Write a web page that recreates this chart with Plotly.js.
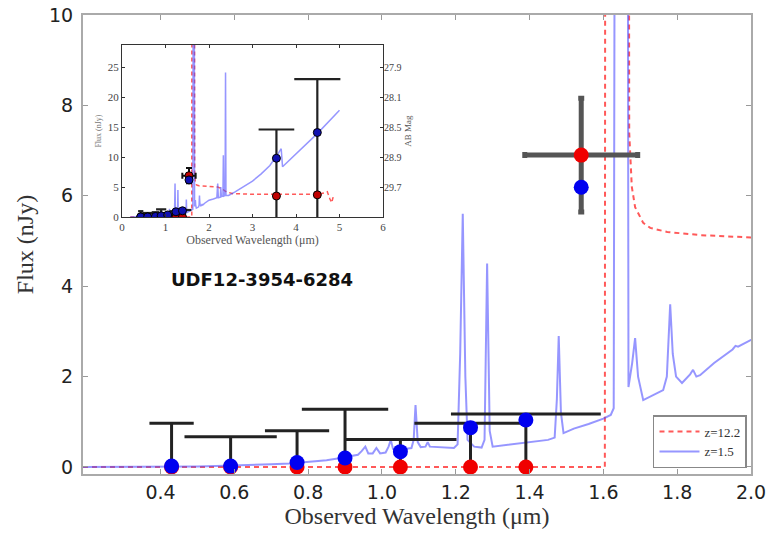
<!DOCTYPE html>
<html>
<head>
<meta charset="utf-8">
<script src="https://cdn.plot.ly/plotly-3.0.1.min.js"></script>
<style>html,body{margin:0;padding:0;background:#fff;}#chart{width:774px;height:533px;}</style>
</head>
<body>
<div id="chart"></div>
<script>
// ---- model SED z=1.5 (blue, solid) ----
const lowZLam = [0.19, 0.30, 0.40, 0.50, 0.55, 0.60, 0.65, 0.70, 0.75, 0.80, 0.85, 0.88, 0.91, 0.935, 0.945, 0.955, 0.963, 0.975, 0.985, 0.995, 1.010, 1.018, 1.024, 1.030, 1.045, 1.060, 1.080, 1.086, 1.091, 1.097, 1.105, 1.118, 1.124, 1.130, 1.160, 1.195, 1.205, 1.212, 1.219, 1.226, 1.232, 1.25, 1.27, 1.278, 1.285, 1.292, 1.30, 1.35, 1.40, 1.45, 1.468, 1.474, 1.479, 1.485, 1.492, 1.52, 1.56, 1.60, 1.62, 1.628, 1.637, 1.662, 1.668, 1.678, 1.686, 1.694, 1.708, 1.740, 1.762, 1.772, 1.781, 1.788, 1.797, 1.813, 1.835, 1.843, 1.852, 1.862, 1.90, 1.95, 1.958, 1.965, 2.00, 2.10, 2.18, 2.20, 2.215, 2.26, 2.27, 2.285, 2.32, 2.33, 2.34, 2.37, 2.38, 2.39, 2.45, 2.60, 2.80, 3.00, 3.20, 3.40, 3.60, 3.66, 3.69, 4.00, 4.50, 5.00];
const lowZFlux = [0.0, 0.0, 0.005, 0.01, 0.02, 0.03, 0.04, 0.06, 0.08, 0.11, 0.15, 0.19, 0.23, 0.27, 0.35, 0.45, 0.30, 0.30, 0.42, 0.30, 0.32, 0.45, 0.60, 0.40, 0.38, 0.40, 0.42, 0.60, 1.37, 0.55, 0.44, 0.45, 0.55, 0.45, 0.43, 0.42, 0.50, 2.5, 5.6, 2.0, 0.60, 0.45, 0.43, 0.60, 4.5, 0.80, 0.45, 0.50, 0.55, 0.60, 0.65, 1.5, 2.9, 1.2, 0.75, 0.85, 0.95, 1.07, 1.15, 1.3, 40, 40, 1.77, 2.3, 2.85, 2.0, 1.48, 1.6, 1.7, 2.0, 3.6, 2.5, 2.0, 1.86, 2.05, 2.15, 2.0, 2.03, 2.3, 2.6, 2.68, 2.66, 2.81, 3.0, 3.2, 5.6, 3.2, 3.3, 5.0, 3.4, 3.5, 10.3, 3.5, 3.6, 24.1, 3.6, 3.6, 4.2, 5.1, 6.0, 7.2, 8.6, 10.7, 11.4, 8.4, 10.6, 14.0, 17.8];

// ---- model SED z=12.2 (red, dashed) ----
const highZLam = [0.19, 1.604, 1.607, 1.666, 1.670, 1.677, 1.686, 1.708, 1.727, 1.773, 1.862, 2.00, 2.20, 2.30, 2.40, 2.55, 3.00, 4.00, 4.50, 4.65, 4.72, 4.78, 4.82, 4.86];
const highZFlux = [0.0, 0.0, 40, 40, 7.4, 6.2, 5.75, 5.4, 5.29, 5.2, 5.13, 5.09, 5.0, 4.7, 4.2, 3.9, 3.8, 3.8, 3.8, 4.0, 4.2, 3.0, 2.4, 3.5];

// ---- photometric bands ----
const bandLam        = [0.43, 0.59, 0.77, 0.90, 1.05, 1.24, 1.39, 1.54, 3.55, 4.49];
const bandHalfWidth  = [0.06, 0.125, 0.087, 0.117, 0.152, 0.152, 0.203, 0.153, 0.41, 0.53];
const lowZBandFlux   = [0.02, 0.02, 0.10, 0.20, 0.34, 0.87, 1.04, 6.19, 9.8, 14.1];
const highZBandFlux  = [0, 0, 0, 0, 0, 0, 0, 6.9, 3.5, 3.7];
const upperLimit     = [0.97, 0.67, 0.80, 1.28, 0.61, 0.97, 1.17, null, 14.6, 23.0];
const obsFlux        = [null, null, null, null, null, null, null, 6.9, null, null];
const obsErr         = [null, null, null, null, null, null, null, 1.26, null, null];

// ---- ticks ----
const mainXTicks = [0.4, 0.6, 0.8, 1.0, 1.2, 1.4, 1.6, 1.8, 2.0];
const mainYTicks = [0, 2, 4, 6, 8, 10];
const insetXTicks = [0, 1, 2, 3, 4, 5, 6];
const insetYTicks = [0, 5, 10, 15, 20, 25];
const abMagFlux   = [5, 10, 15, 20, 25];
const abMagLabels = ['29.7', '28.9', '28.5', '28.1', '27.9'];

const zeros = upperLimit.map(v => (v === null ? null : 0));

const SERIF = 'Liberation Serif, Times New Roman, serif';
const SANS = 'DejaVu Sans, sans-serif';
const redCol = 'rgba(255,60,60,0.85)';
const blueCol = 'rgba(80,80,255,0.6)';

function curves(xa, ya, w, legend) {
  return [
    {x: highZLam, y: highZFlux, xaxis: xa, yaxis: ya, mode: 'lines', name: 'z=12.2', showlegend: legend,
     line: {color: redCol, width: w, dash: legend ? '5px,4px' : '4px,3px'}, hoverinfo: 'skip'},
    {x: lowZLam, y: lowZFlux, xaxis: xa, yaxis: ya, mode: 'lines', name: 'z=1.5', showlegend: legend,
     line: {color: blueCol, width: w}, hoverinfo: 'skip'}
  ];
}
function points(xa, ya, s) {
  return [
    {x: bandLam, y: upperLimit, xaxis: xa, yaxis: ya, mode: 'markers', showlegend: false,
     marker: {size: 1, color: 'rgba(0,0,0,0)'},
     error_x: {type: 'data', array: bandHalfWidth, color: s.barCol, thickness: s.barW, width: 0},
     error_y: {type: 'data', symmetric: false, array: zeros, arrayminus: upperLimit, color: s.barCol, thickness: s.barW, width: 0},
     hoverinfo: 'skip'},
    {x: bandLam, y: obsFlux, xaxis: xa, yaxis: ya, mode: 'markers', showlegend: false,
     marker: {size: 1, color: 'rgba(0,0,0,0)'},
     error_x: {type: 'data', array: bandHalfWidth, color: s.detCol, thickness: s.detW, width: s.cap},
     error_y: {type: 'data', array: obsErr, color: s.detCol, thickness: s.detW, width: s.cap},
     hoverinfo: 'skip'},
    {x: bandLam, y: highZBandFlux, xaxis: xa, yaxis: ya, mode: 'markers', showlegend: false,
     marker: {size: s.ms, color: s.red, line: {width: s.edge, color: '#000'}}, hoverinfo: 'skip'},
    {x: bandLam, y: lowZBandFlux, xaxis: xa, yaxis: ya, mode: 'markers', showlegend: false,
     marker: {size: s.ms, color: s.blue, line: {width: s.edge, color: '#000'}}, hoverinfo: 'skip'}
  ];
}

const data = [].concat(
  curves('x', 'y', 2, true),
  points('x', 'y', {barCol: '#222', barW: 3, detCol: '#555', detW: 5, cap: 3, ms: 15, red: '#f00000', blue: '#0000f0', edge: 0}),
  curves('x2', 'y2', 1.5, false),
  points('x2', 'y2', {barCol: '#222', barW: 2.2, detCol: '#111', detW: 2, cap: 3, ms: 8, red: '#c00000', blue: '#1010b0', edge: 1}),
  // carrier trace so the AB-mag twin axis of the inset is drawn
  [{x: bandLam, y: lowZBandFlux, xaxis: 'x2', yaxis: 'y3', mode: 'markers', showlegend: false,
    marker: {size: 1, color: 'rgba(0,0,0,0)'}, hoverinfo: 'skip'}]
);

const layout = {
  width: 774, height: 533,
  margin: {l: 83, r: 23, t: 15, b: 59},
  paper_bgcolor: '#fff', plot_bgcolor: '#fff',
  showlegend: true,
  legend: {x: 0.994, y: 0.013, xanchor: 'right', yanchor: 'bottom', bgcolor: '#fff',
           bordercolor: '#888', borderwidth: 1.5, itemwidth: 40, tracegroupgap: 0,
           font: {family: SERIF, size: 13, color: '#333'}},
  xaxis: {domain: [0, 1], range: [0.19, 2.0], tickvals: mainXTicks, tickformat: '.1f',
          showgrid: false, zeroline: false, showline: true, linecolor: '#aaa', linewidth: 2, mirror: 'ticks',
          ticks: 'inside', ticklen: 5, tickcolor: '#999', tickwidth: 1,
          tickfont: {family: SANS, size: 19, color: '#222'},
          title: {text: 'Observed Wavelength (μm)', font: {family: SERIF, size: 24, color: '#333'}, standoff: 1}},
  yaxis: {domain: [0, 1], range: [-0.155, 10], tickvals: mainYTicks,
          showgrid: false, zeroline: false, showline: true, linecolor: '#aaa', linewidth: 2, mirror: 'ticks',
          ticks: 'inside', ticklen: 5, tickcolor: '#999', tickwidth: 1, ticklabelstandoff: 4,
          tickfont: {family: SANS, size: 19, color: '#222'},
          title: {text: 'Flux (nJy)', font: {family: SERIF, size: 24, color: '#333'}, standoff: 9}},
  xaxis2: {domain: [0.0584, 0.4491], anchor: 'y2', range: [0, 6], tickvals: insetXTicks,
           showgrid: false, zeroline: false, showline: true, linecolor: '#333', linewidth: 1, mirror: 'ticks',
           ticks: 'inside', ticklen: 3, tickcolor: '#333',
           tickfont: {family: SERIF, size: 11, color: '#444'},
           title: {text: 'Observed Wavelength (μm)', font: {family: SERIF, size: 12, color: '#555'}, standoff: 2}},
  yaxis2: {domain: [0.5599, 0.9346], anchor: 'x2', range: [0, 28.7], tickvals: insetYTicks,
           showgrid: false, zeroline: false, showline: true, linecolor: '#333', linewidth: 1, mirror: true,
           ticks: 'inside', ticklen: 3, tickcolor: '#333',
           tickfont: {family: SERIF, size: 11, color: '#444'},
           title: {text: 'Flux (nJy)', font: {family: SERIF, size: 8, color: '#777'}, standoff: 4}},
  yaxis3: {overlaying: 'y2', anchor: 'x2', side: 'right', range: [0, 28.7], tickvals: abMagFlux, ticktext: abMagLabels,
           showgrid: false, zeroline: false, showline: false,
           ticks: 'inside', ticklen: 3, tickcolor: '#333',
           tickfont: {family: SERIF, size: 10, color: '#444'},
           title: {text: 'AB Mag', font: {family: SERIF, size: 9, color: '#555'}, standoff: 4}},
  annotations: [
    {xref: 'paper', yref: 'paper', x: 0.268, y: 0.4227, xanchor: 'center', yanchor: 'middle', showarrow: false,
     text: '<b>UDF12-3954-6284</b>', font: {family: SANS, size: 18, color: '#111'}}
  ]
};

Plotly.newPlot('chart', data, layout, {displayModeBar: false, staticPlot: true});
</script>
</body>
</html>
